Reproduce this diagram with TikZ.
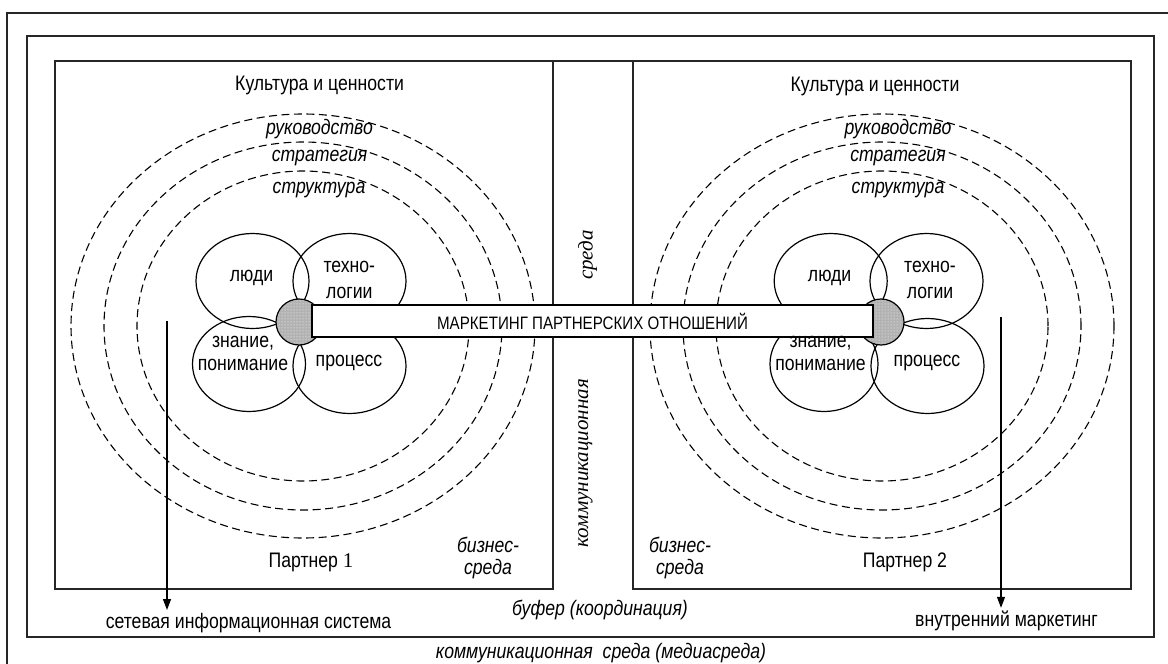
\documentclass[tikz,border=0pt]{standalone}
\usepackage{fontspec}
\setmainfont{Liberation Sans}[FakeStretch=0.84]
\newfontfamily\serif{Liberation Serif}
\usetikzlibrary{arrows.meta,patterns,shapes.geometric}
\begin{document}
\begin{tikzpicture}[x=1pt,y=-1pt,
  frame/.style={draw=black!85, line width=1.4pt},
  ring/.style={draw, ellipse, dash pattern=on 8pt off 4.5pt, line width=1.1pt, inner sep=0},
  petal/.style={draw, ellipse, line width=1.2pt, inner sep=0, minimum width=113pt, minimum height=95pt},
  hub/.style={draw, circle, line width=1.2pt, minimum size=46pt, inner sep=0, fill=gray!60},
  txt/.style={inner sep=0, font=\fontsize{21pt}{25pt}\selectfont},
  itxt/.style={inner sep=0, align=center, font=\fontsize{21pt}{22pt}\selectfont\itshape},
  vtxt/.style={inner sep=0, rotate=90, font=\serif\fontsize{21pt}{25pt}\selectfont\itshape},
  arr/.style={-{Triangle[length=11pt,width=8pt]}, line width=1.3pt},
  bartxt/.style={draw, fill=white, line width=1.4pt, minimum width=561pt, minimum height=32pt, inner sep=0, font=\fontsize{18pt}{20pt}\selectfont}]

\useasboundingbox (0,0) rectangle (1168,664);

% frames
\draw[frame] (7,664) -- (7,13) -- (1168,13);
\draw[frame] (27,36) rectangle (1154,637);
\draw[frame] (55,61) rectangle (553,589);
\draw[frame] (633,61) rectangle (1131,589);
\draw[frame] (553,61) -- (633,61);

% rings
\foreach \cx/\s in {303/L,882/R}{
  \node[ring, minimum width=464pt, minimum height=424pt] (ringA\s) at (\cx,326) {};
  \node[ring, minimum width=398pt, minimum height=368pt] (ringB\s) at (\cx,326) {};
  \node[ring, minimum width=332pt, minimum height=310pt] (ringC\s) at (\cx,326) {};
}

% petals left
\node[petal] (lyudiL) at (252.5,281) {};
\node[petal] (techL) at (349.5,281) {};
\node[petal] (znL) at (249,364) {};
\node[petal] (procL) at (349.5,366) {};
% petals right
\node[petal] (lyudiR) at (830.7,281) {};
\node[petal] (techR) at (926.5,281) {};
\node[petal, minimum width=108pt] (znR) at (824,364) {};
\node[petal] (procR) at (927.5,366) {};

% hubs
\node[hub] (hubL) at (299,322) {};
\node[hub] (hubR) at (881,322) {};
\fill[pattern=dots, pattern color=white] (hubL.center) circle[radius=22pt];
\fill[pattern=dots, pattern color=white] (hubR.center) circle[radius=22pt];

% bar
\node[bartxt] (bar) at (592.5,321) {МАРКЕТИНГ ПАРТНЕРСКИХ ОТНОШЕНИЙ};

% texts left
\node[txt] (kulL) at (319.6,85) {Культура и ценности};
\node[itxt] (rukL) at (319.5,129) {руководство};
\node[itxt] (strL) at (319.6,158) {стратегия};
\node[itxt] (strkL) at (319,190) {структура};
\node[txt] (tlyudiL) at (251.6,278) {люди};
\node[txt, align=center, font=\fontsize{21pt}{26pt}\selectfont] (ttechL) at (349.3,280) {техно-\\логии};
\node[txt, align=center, font=\fontsize{21pt}{23pt}\selectfont] (tznL) at (243,353) {знание,\\понимание};
\node[txt] (tprocL) at (349,363) {процесс};
\node[txt] (partL) at (311,562) {Партнер {\serif 1}};
\node[itxt] (bizL) at (488,558) {бизнес-\\среда};

% texts right
\node[txt] (kulR) at (875,86) {Культура и ценности};
\node[itxt] (rukR) at (898,129) {руководство};
\node[itxt] (strR) at (898,158) {стратегия};
\node[itxt] (strkR) at (898,190) {структура};
\node[txt] (tlyudiR) at (829.6,278) {люди};
\node[txt, align=center, font=\fontsize{21pt}{26pt}\selectfont] (ttechR) at (930,280) {техно-\\логии};
\node[txt, align=center, font=\fontsize{21pt}{23pt}\selectfont] (tznR) at (820.5,353) {знание,\\понимание};
\node[txt] (tprocR) at (927,363) {процесс};
\node[txt] (partR) at (905,562) {Партнер 2};
\node[itxt] (bizR) at (680,558) {бизнес-\\среда};

% middle column
\node[vtxt] (sreda) at (587.5,255) {среда};
\node[vtxt] (komm) at (585.5,463) {коммуникационная};

% bottom labels
\node[itxt] (bufer) at (600,610) {буфер (координация)};
\node[itxt] (media) at (601,653) {коммуникационная\ \ среда (медиасреда)};
\node[txt] (sis) at (248.5,623) {сетевая информационная система};
\node[txt] (vm) at (1006.5,621) {внутренний маркетинг};

% arrows
\coordinate (a1s) at (167,321);
\coordinate (a2s) at (1001,317);
\draw[arr, shorten >=3pt] (a1s) -- (a1s |- sis.north);
\draw[arr, shorten >=3pt] (a2s) -- (a2s |- vm.north);
\end{tikzpicture}
\end{document}
